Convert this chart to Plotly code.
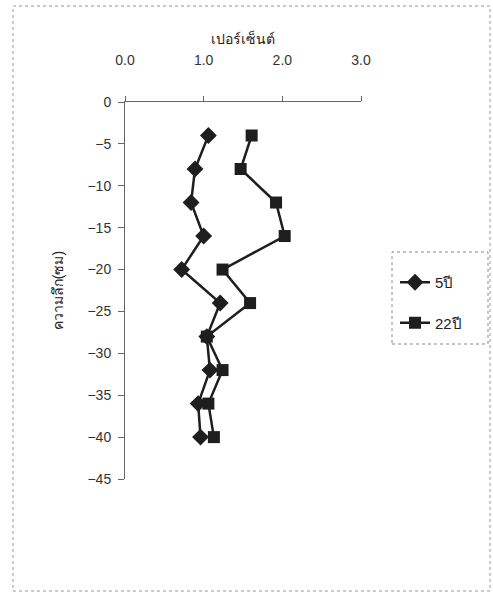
import plotly.graph_objects as go

depth = [-4, -8, -12, -16, -20, -24, -28, -32, -36, -40]
pct_5 = [1.06, 0.89, 0.84, 1.00, 0.72, 1.21, 1.04, 1.08, 0.93, 0.96]
pct_22 = [1.61, 1.47, 1.92, 2.03, 1.24, 1.59, 1.04, 1.24, 1.06, 1.13]
x_ticks = [0, 1, 2, 3]
x_ticktext = ["0.0", "1.0", "2.0", "3.0"]
y_ticks = [0, -5, -10, -15, -20, -25, -30, -35, -40, -45]
series_names = ["5ปี", "22ปี"]

W, H = 493, 594
L, R, T, B = 125, 132, 102, 115

fig = go.Figure()
fig.add_trace(go.Scatter(x=pct_5, y=depth, mode="lines+markers", name=series_names[0],
                         legendgroup="a",
                         line=dict(color="#1e1e1e", width=2.5),
                         marker=dict(symbol="diamond", size=13, color="#1e1e1e")))
fig.add_trace(go.Scatter(x=pct_22, y=depth, mode="lines+markers", name=series_names[1],
                         legendgroup="b",
                         line=dict(color="#1e1e1e", width=2.5),
                         marker=dict(symbol="square", size=12, color="#1e1e1e")))

font_fam = "Liberation Sans, Arial, Noto Sans, sans-serif"
fig.update_layout(
    width=W, height=H,
    margin=dict(l=L, r=R, t=T, b=B),
    paper_bgcolor="white", plot_bgcolor="white",
    font=dict(family=font_fam, size=14, color="#333"),
    showlegend=True,
    legend=dict(x=(395 - L) / (W - L - R), y=(479 - 266) / (H - T - B),
                xanchor="left", yanchor="top", bgcolor="rgba(0,0,0,0)",
                borderwidth=0, font=dict(size=15, color="#222"),
                tracegroupgap=18, itemwidth=30),
    xaxis=dict(range=[0, 3], side="top", showline=True, linecolor="#666", linewidth=1,
               showgrid=False, zeroline=False, tickvals=x_ticks, ticktext=x_ticktext,
               ticks="outside", ticklen=5, tickcolor="#666", ticklabelstandoff=25,
               title=dict(text="เปอร์เซ็นต์", standoff=4, font=dict(size=14, color="#222"))),
    yaxis=dict(range=[-45, 0], showline=True, linecolor="#666", linewidth=1,
               showgrid=False, zeroline=False, tickvals=y_ticks,
               ticks="outside", ticklen=6, tickcolor="#666", ticklabelstandoff=4,
               title=dict(text="ความลึก(ซม)", standoff=20, font=dict(size=14, color="#222"))),
    shapes=[
        dict(type="rect", xref="paper", yref="paper",
             x0=(392 - L) / (W - L - R), x1=(488 - L) / (W - L - R),
             y0=(479 - 344) / (H - T - B), y1=(479 - 252) / (H - T - B),
             line=dict(color="#888", width=1, dash="dot")),
        dict(type="rect", xref="paper", yref="paper",
             x0=(13 - L) / (W - L - R), x1=(490 - L) / (W - L - R),
             y0=(479 - 591) / (H - T - B), y1=(479 - 6) / (H - T - B),
             line=dict(color="#999", width=1, dash="dot")),
    ],
)

fig.write_html("out.html")
